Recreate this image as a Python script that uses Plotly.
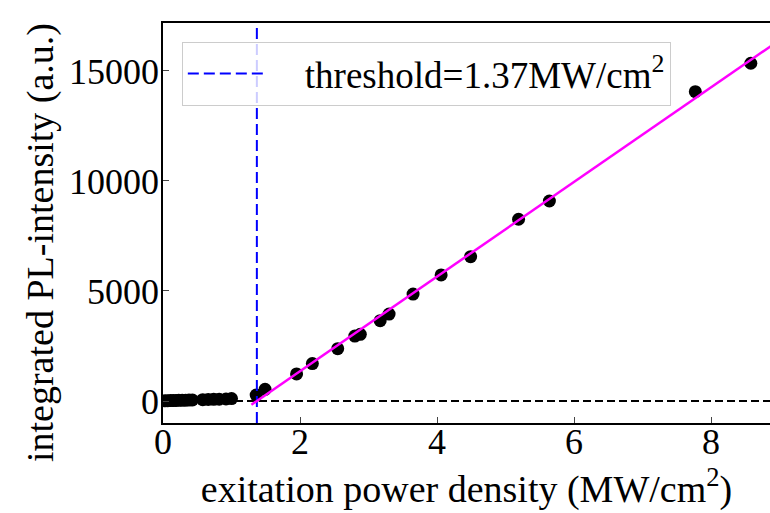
import plotly.graph_objects as go

# Measured integrated PL intensity vs. excitation power density
power = [0.03, 0.07, 0.11, 0.15, 0.19, 0.23, 0.28, 0.33, 0.38, 0.43,
         0.58, 0.66, 0.74, 0.82, 0.92, 1.00,
         1.36, 1.49, 1.95, 2.18, 2.55, 2.80, 2.88, 3.17, 3.30, 3.65,
         4.06, 4.49, 5.19, 5.64, 7.77, 8.58]
intensity = [10, 15, 20, 20, 25, 30, 30, 35, 40, 45,
             60, 70, 75, 80, 90, 110,
             270, 530, 1230, 1700, 2380, 2950, 3030, 3650, 3950, 4860,
             5730, 6560, 8260, 9090, 14060, 15350]

# Linear fit above threshold
threshold = 1.37
slope = 2150
fit_x = [1.29, 9.0]
fit_y = [slope * (x - threshold) for x in fit_x]

x_range = [0, 8.86]
y_range = [-1000, 17180]
x_ticks = [0, 2, 4, 6, 8]
y_ticks = [0, 5000, 10000, 15000]
y_tick_labels = ["0", "5000", "10000", "15000"]

FONT = "Liberation Serif, Times New Roman, serif"
TICK_SIZE = 36
TITLE_SIZE = 38

fig = go.Figure()

fig.add_trace(go.Scatter(
    x=power, y=intensity, mode="markers",
    marker=dict(color="black", size=13),
    showlegend=False,
))
fig.add_trace(go.Scatter(
    x=x_range, y=[0, 0], mode="lines",
    line=dict(color="black", width=2, dash="8px,4px"),
    showlegend=False,
))
fig.add_trace(go.Scatter(
    x=[threshold, threshold], y=y_range, mode="lines",
    line=dict(color="#0000FF", width=2, dash="11px,5px"),
    name=f"\u2003threshold={threshold}MW/cm<sup>2</sup>",
    showlegend=True,
))
fig.add_trace(go.Scatter(
    x=fit_x, y=fit_y, mode="lines",
    line=dict(color="#FF00FF", width=2.5),
    showlegend=False,
))

fig.update_layout(
    width=770, height=513,
    margin=dict(l=163, r=0, t=23, b=90),
    paper_bgcolor="white", plot_bgcolor="white",
    font=dict(family=FONT, size=TICK_SIZE, color="black"),
    legend=dict(
        x=0.031, y=0.9525, xanchor="left", yanchor="top",
        bgcolor="rgba(255,255,255,0.8)", bordercolor="#cccccc", borderwidth=1,
        font=dict(family=FONT, size=37, color="black"),
        itemwidth=75,
    ),
    annotations=[dict(
        text="integrated PL-intensity (a.u.)",
        xref="paper", yref="paper", x=-0.2026, y=0.45,
        xanchor="center", yanchor="middle", textangle=-90, showarrow=False,
        font=dict(family=FONT, size=TITLE_SIZE, color="black"),
    )],
)
fig.update_xaxes(
    range=x_range, tickvals=x_ticks, ticks="inside", ticklen=6, tickwidth=1,
    ticklabelstandoff=-14,
    showline=True, linecolor="black", linewidth=1.5, mirror=True,
    showgrid=False, zeroline=False,
    tickfont=dict(family=FONT, size=TICK_SIZE),
    title=dict(text="exitation power density (MW/cm<sup>2</sup>)",
               font=dict(family=FONT, size=TITLE_SIZE), standoff=4),
)
fig.update_yaxes(
    range=y_range, tickvals=y_ticks, ticktext=y_tick_labels,
    ticks="inside", ticklen=6, tickwidth=1, ticklabelstandoff=-5,
    showline=True, linecolor="black", linewidth=1.5, mirror=False,
    showgrid=False, zeroline=False,
    tickfont=dict(family=FONT, size=TICK_SIZE),
)

fig.write_html("out.html")
